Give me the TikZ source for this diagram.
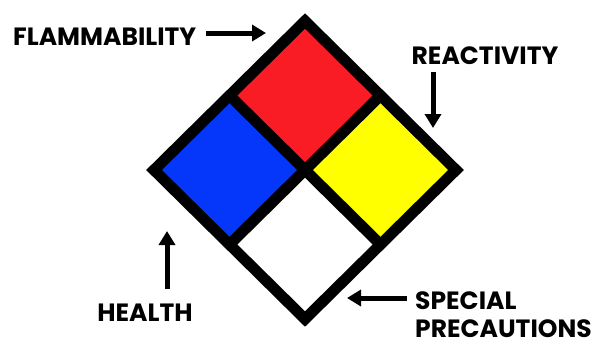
\documentclass[tikz,border=0pt]{standalone}
\usepackage{fontspec}
\setmainfont{Poppins}
\usetikzlibrary{arrows.meta,positioning,calc}
\definecolor{nfpared}{RGB}{250,28,36}
\definecolor{nfpablue}{RGB}{5,55,250}
\definecolor{nfpayellow}{RGB}{255,255,0}

\begin{document}
\begin{tikzpicture}[x=1pt, y=-1pt,
      lbl/.style={font=\fontsize{25}{28}\selectfont\bfseries, inner sep=0pt, align=left},
      ar/.style={-{Triangle[length=14pt,width=16pt]}, line width=5pt},
      rim/.style={line width=11pt, line join=miter}]
    \useasboundingbox (0,0) rectangle (602,346);
    % --- the diamond ---
    \coordinate (top) at (305,21);
    \coordinate (rgt) at (456,170);
    \coordinate (bot) at (305,319);
    \coordinate (lft) at (154,170);
    \coordinate (ctr) at (305,170);
    \coordinate (tl) at ($(top)!0.5!(lft)$);
    \coordinate (tr) at ($(top)!0.5!(rgt)$);
    \coordinate (bl) at ($(bot)!0.5!(lft)$);
    \coordinate (br) at ($(bot)!0.5!(rgt)$);
    \fill[nfpared] (top) -- (tr) -- (ctr) -- (tl) -- cycle;
    \fill[nfpablue] (lft) -- (tl) -- (ctr) -- (bl) -- cycle;
    \fill[nfpayellow] (rgt) -- (tr) -- (ctr) -- (br) -- cycle;
    \fill[white] (bot) -- (bl) -- (ctr) -- (br) -- cycle;
    \draw[rim] (tl) -- (br);
    \draw[rim] (tr) -- (bl);
    \draw[rim] (top) -- (rgt) -- (bot) -- (lft) -- cycle;
    % --- labels and their arrows ---
    \node[lbl, anchor=west] (flam) at (13,37) {FLAMMABILITY};
    \coordinate (flamtip) at (266,33);
    \draw[ar] ($(flam.east |- flamtip)+(10,0)$) -- (flamtip);
    \node[lbl] (react) at (485,56) {REACTIVITY};
    \coordinate (reacttip) at (433,128);
    \draw[ar] ($(reacttip |- react.south)+(0,7)$) -- (reacttip);
    \node[lbl] (health) at (145,313) {HEALTH};
    \coordinate (healthtip) at (167,231);
    \draw[ar] ($(healthtip |- health.north)+(0,-15)$) -- (healthtip);
    \node[lbl, anchor=west] (spec) at (415,315) {SPECIAL\\PRECAUTIONS};
    \coordinate (spectip) at (347,298);
    \draw[ar] ($(spec.west |- spectip)+(-8,0)$) -- (spectip);
  \end{tikzpicture}
\end{document}
